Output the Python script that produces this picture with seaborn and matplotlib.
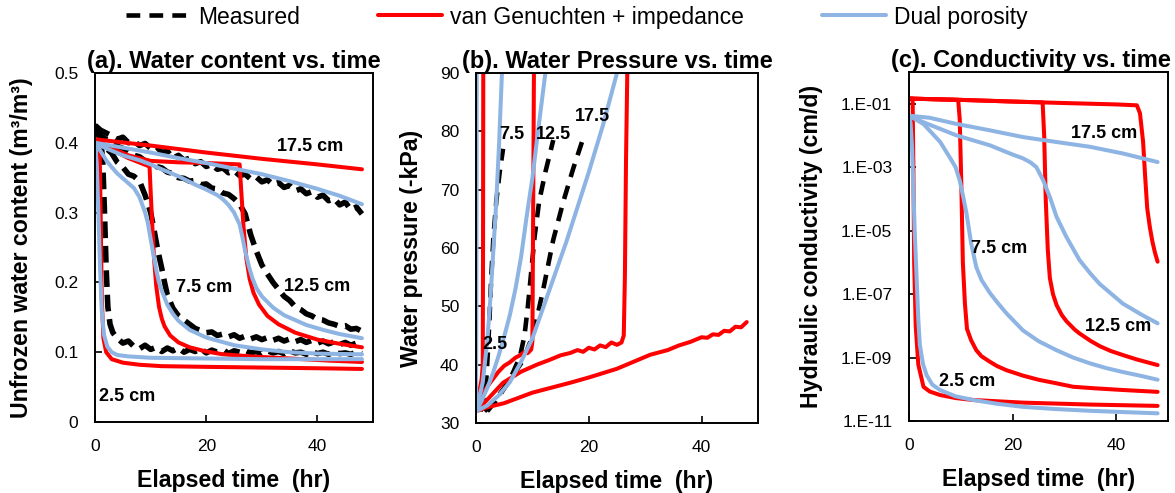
import matplotlib
matplotlib.use("Agg")
import numpy as np
import matplotlib.pyplot as plt
from matplotlib.lines import Line2D
from matplotlib.ticker import FuncFormatter, NullLocator
import seaborn as sns

# colours used in the original figure
MEAS_COLOR = "black"
VG_COLOR = "#FF0000"
DP_COLOR = "#8EB4E3"

# ---------------- (a) water content (m3/m3) vs time (hr) ----------------
T_A_MEAS_25 = [0, 0.5, 1, 1.4, 1.7, 2.0, 2.3, 2.7, 3.2, 4,
               5, 6, 7, 8, 9, 10, 11, 12, 13, 14,
               15, 16, 17, 18, 19, 20, 21, 22, 23, 24,
               25, 26, 27, 28, 29, 30, 31, 32, 33, 34,
               35, 36, 37, 38, 39, 40, 41, 42, 43, 44,
               45, 46, 47, 48]
W_A_MEAS_25 = [0.425, 0.415, 0.41, 0.37, 0.3, 0.22, 0.165, 0.14, 0.128, 0.12,
               0.113, 0.116, 0.108, 0.105, 0.11, 0.104, 0.107, 0.101, 0.106, 0.102,
               0.106, 0.1, 0.104, 0.101, 0.105, 0.099, 0.103, 0.1, 0.104, 0.098,
               0.102, 0.1, 0.103, 0.099, 0.101, 0.097, 0.102, 0.099, 0.101, 0.098,
               0.102, 0.099, 0.1, 0.097, 0.101, 0.098, 0.1, 0.097, 0.1, 0.098,
               0.099, 0.097, 0.1, 0.098]

T_A_MEAS_75 = [0, 1, 2, 3, 4, 5, 6, 7, 8, 9, 10, 10.5, 11, 11.5, 12, 12.5, 13, 14,
               15, 16, 17, 18, 19, 20,
               21, 22, 23, 24, 25, 26, 27, 28, 29, 30, 31, 32, 33, 34,
               35, 36, 37, 38, 39, 40, 41, 42, 43, 44, 45, 46, 47, 48]
W_A_MEAS_75 = [0.42, 0.405, 0.392, 0.385, 0.372, 0.365, 0.355, 0.352, 0.345, 0.325,
               0.3, 0.28, 0.258, 0.238, 0.22, 0.2, 0.182, 0.163, 0.152, 0.146,
               0.14, 0.134, 0.131, 0.128,
               0.129, 0.124, 0.126, 0.122, 0.125, 0.12, 0.123, 0.119, 0.122, 0.118,
               0.121, 0.117, 0.12, 0.116, 0.119, 0.115, 0.118, 0.114, 0.117, 0.113,
               0.116, 0.112, 0.115, 0.111, 0.114, 0.11, 0.113, 0.11]

T_A_MEAS_125 = [0, 1, 2, 3, 4, 5, 6, 7, 8, 9,
                10, 11, 12, 13, 14, 15, 16, 17, 18, 19,
                20, 21, 22, 23, 24, 25, 26, 27, 28, 29,
                30, 31, 32, 33, 34, 35, 36, 37, 38, 39,
                40, 41, 42, 43, 44, 45, 46, 47, 48]
W_A_MEAS_125 = [0.42, 0.41, 0.405, 0.402, 0.395, 0.392, 0.388, 0.382, 0.38, 0.374,
                0.372, 0.366, 0.364, 0.358, 0.356, 0.35, 0.349, 0.345, 0.346, 0.34,
                0.341, 0.335, 0.334, 0.328, 0.326, 0.32, 0.312, 0.298, 0.268, 0.245,
                0.225, 0.212, 0.2, 0.19, 0.18, 0.174, 0.165, 0.161, 0.155, 0.152,
                0.147, 0.146, 0.142, 0.14, 0.137, 0.138, 0.133, 0.134, 0.13]

T_A_MEAS_175 = T_A_MEAS_125
W_A_MEAS_175 = [0.425, 0.418, 0.414, 0.41, 0.405, 0.408, 0.4, 0.402, 0.396, 0.399,
                0.392, 0.395, 0.386, 0.388, 0.378, 0.382, 0.375, 0.378, 0.37, 0.373,
                0.366, 0.369, 0.362, 0.364, 0.357, 0.36, 0.353, 0.355, 0.348, 0.351,
                0.344, 0.347, 0.34, 0.343, 0.336, 0.339, 0.331, 0.334, 0.327, 0.33,
                0.322, 0.325, 0.317, 0.32, 0.311, 0.315, 0.304, 0.308, 0.298]

T_A_VG_25 = [0, 0.8, 1.0, 1.2, 1.5, 2, 3, 5, 8, 12, 20, 30, 40, 48]
W_A_VG_25 = [0.405, 0.4, 0.3, 0.18, 0.12, 0.1, 0.09, 0.085, 0.082, 0.08, 0.079, 0.078, 0.077, 0.076]
T_A_VG_75 = [0, 3, 6, 9.8, 10.0, 10.3, 10.6, 11, 11.5, 12, 12.5, 13.5, 15, 17, 20, 23, 28, 35, 42, 48]
W_A_VG_75 = [0.405, 0.39, 0.378, 0.366, 0.33, 0.28, 0.235, 0.195, 0.165, 0.148,
             0.137, 0.124, 0.114, 0.107, 0.101, 0.097, 0.094, 0.091, 0.088, 0.086]
T_A_VG_125 = [0, 3, 6, 10, 15, 20, 26.0, 26.3, 26.7, 27.2, 27.8, 28.5, 29.5, 31, 33, 36, 40, 44, 48]
W_A_VG_125 = [0.405, 0.392, 0.382, 0.374, 0.372, 0.371, 0.369, 0.33, 0.28, 0.235,
              0.205, 0.185, 0.168, 0.152, 0.14, 0.128, 0.118, 0.112, 0.107]
T_A_VG_175 = [0, 10, 20, 30, 40, 48]
W_A_VG_175 = [0.405, 0.396, 0.386, 0.377, 0.369, 0.362]

T_A_DP_25 = [0, 0.3, 0.6, 0.9, 1.2, 1.6, 2.2, 3, 4, 6, 10, 20, 30, 40, 48]
W_A_DP_25 = [0.4, 0.37, 0.3, 0.22, 0.16, 0.125, 0.108, 0.1, 0.096, 0.094, 0.092, 0.091, 0.09, 0.09, 0.09]
T_A_DP_75 = [0, 1, 2, 3, 4, 5, 6, 7, 8, 9, 9.5, 10, 10.5, 11, 11.5, 12, 13, 14, 15,
             17, 20, 25, 30, 35, 40, 48]
W_A_DP_75 = [0.4, 0.388, 0.375, 0.365, 0.356, 0.349, 0.342, 0.335, 0.322, 0.3,
             0.285, 0.262, 0.24, 0.218, 0.2, 0.188, 0.168, 0.155, 0.145, 0.132,
             0.121, 0.11, 0.104, 0.1, 0.098, 0.097]
T_A_DP_125 = [0, 2, 5, 8, 10, 12, 15, 18, 20, 22, 23, 24, 25, 26, 26.5, 27, 27.7,
              28.3, 29, 30, 32, 34, 36, 38, 41, 44, 48]
W_A_DP_125 = [0.4, 0.392, 0.382, 0.375, 0.369, 0.362, 0.352, 0.34, 0.333, 0.325,
              0.319, 0.311, 0.3, 0.283, 0.265, 0.245, 0.222, 0.206, 0.192, 0.18,
              0.164, 0.153, 0.146, 0.139, 0.132, 0.126, 0.12]
T_A_DP_175 = [0, 5, 10, 15, 20, 25, 30, 35, 40, 44, 48]
W_A_DP_175 = [0.4, 0.393, 0.386, 0.378, 0.371, 0.363, 0.355, 0.345, 0.334, 0.324, 0.312]

# ---------------- (b) water pressure (-kPa) vs time (hr) ----------------
T_B_MEAS_25 = [0.3, 0.8, 1.2, 1.6]
P_B_MEAS_25 = [32, 34, 37.5, 42]
T_B_MEAS_75 = [0.8, 1.4, 1.8, 2.1, 2.4, 2.7, 3.1, 3.6, 4.2, 4.8]
P_B_MEAS_75 = [32, 34, 37, 42, 48, 55, 62, 68, 73, 77]
T_B_MEAS_125 = [1.5, 3, 5, 6.5, 7.8, 8.6, 9.2, 9.8, 10.4, 11.2, 12.3, 13.7]
P_B_MEAS_125 = [32, 33.5, 36, 38.5, 41.4, 45, 50, 56, 62, 68, 73, 78.5]
T_B_MEAS_175 = [2, 3.7, 6, 8.4, 10.2, 11.9, 13.7, 15.5, 17.2, 18.8]
P_B_MEAS_175 = [32, 34, 37.4, 40.8, 45.4, 52.8, 61.4, 68, 73.5, 78.2]

T_B_VG_25 = [0, 0.5, 1.0, 1.2, 1.25, 1.3]
P_B_VG_25 = [32, 35, 37.5, 40, 60, 95]
T_B_VG_75 = [0, 1, 2.5, 4, 5, 6, 7, 7.8, 8.5, 9.2, 9.8, 10.0, 10.1, 10.3]
P_B_VG_75 = [32, 34.8, 36.9, 38.8, 39.8, 40.4, 41.2, 41.6, 42.1, 42.0, 42.6, 44, 60, 95]
T_B_VG_125 = [0, 2, 4.8, 8, 10.8, 13, 15, 16.7, 18, 19, 20, 21, 22, 23, 24, 25,
              25.8, 26.2, 26.4, 26.6, 26.9]
P_B_VG_125 = [32, 34, 36.9, 38.8, 40, 40.8, 41.6, 42, 42.5, 42.2, 42.9, 42.6, 43.3,
              43.0, 43.8, 43.4, 43.8, 45, 55, 75, 95]
T_B_VG_175 = [0, 2, 5, 10, 16.7, 20, 25, 30.9, 34, 36, 38, 40, 41, 42, 43, 44, 45, 46, 47, 48]
P_B_VG_175 = [32, 32.7, 33.4, 35.2, 36.9, 37.8, 39.3, 41.7, 42.5, 43.3, 43.9, 44.7,
              44.6, 45.2, 45.1, 45.8, 45.7, 46.5, 46.4, 47.3]

T_B_DP_25 = [0, 0.05, 0.1, 0.13]
P_B_DP_25 = [32, 45, 70, 95]
T_B_DP_75 = [0, 0.5, 1.2, 2, 2.6, 3.1, 3.6, 4.1, 4.6]
P_B_DP_75 = [32, 34, 37, 44, 52, 60, 68, 78, 90]
T_B_DP_125 = [0, 1, 2, 3, 4, 5, 6, 7, 8, 9, 10, 11, 12.3]
P_B_DP_125 = [32, 33.8, 36, 38.5, 41.5, 44.8, 48.5, 53, 58.5, 65.5, 72, 80, 90]
T_B_DP_175 = [0, 2, 4, 6, 8, 10, 12, 14, 16, 18, 20, 22.5, 25]
P_B_DP_175 = [32, 33, 34.7, 37, 40.5, 44.5, 50, 55.5, 61, 67, 73, 81, 90]

# ---------------- (c) hydraulic conductivity (cm/d) vs time (hr) ----------------
T_C_VG_25 = [0, 0.7, 0.85, 1.0, 1.3, 1.8, 2.8, 4, 6, 9, 12.4, 22, 35, 48]
K_C_VG_25 = [0.145, 0.145, 1e-3, 1e-6, 1e-8, 6e-10, 1.2e-10, 8.5e-11, 6.6e-11,
             5.3e-11, 4.6e-11, 3.8e-11, 3.3e-11, 3e-11]
T_C_VG_75 = [0, 5, 9.5, 9.8, 10.1, 10.4, 10.8, 11.2, 12, 13, 14, 15.6, 17, 18.8,
             22, 25, 28, 31.7, 36, 41.3, 48]
K_C_VG_75 = [0.145, 0.138, 0.132, 3.2e-2, 3.2e-4, 1e-6, 5e-8, 8e-9, 3.5e-9, 1.7e-9,
             1.1e-9, 7.4e-10, 5.4e-10, 4e-10, 2.7e-10, 2e-10, 1.6e-10, 1.2e-10,
             1.07e-10, 9.5e-11, 8.3e-11]
T_C_VG_125 = [0, 10, 20, 25.8, 26.1, 26.4, 26.8, 27.2, 27.8, 28.5, 29.5, 30.4, 32,
              32.9, 35, 36.8, 39, 41.3, 44, 48]
K_C_VG_125 = [0.145, 0.132, 0.117, 0.11, 1e-2, 1e-4, 2.5e-6, 3.2e-7, 1e-7, 4.5e-8,
              2.2e-8, 1.4e-8, 7.6e-9, 5.8e-9, 3.4e-9, 2.3e-9, 1.6e-9, 1.2e-9,
              8.7e-10, 5.8e-10]
T_C_VG_175 = [0, 10, 20, 30, 40, 44, 44.6, 45.2, 45.6, 46, 46.5, 47, 47.5, 48]
K_C_VG_175 = [0.145, 0.132, 0.117, 0.105, 0.095, 0.089, 0.05, 6.3e-3, 5e-4, 5e-5,
              1.3e-5, 4.5e-6, 2e-6, 1.05e-6]

T_C_DP_25 = [0, 0.3, 0.6, 0.8, 1.1, 1.5, 1.8, 2.1, 2.7, 3.4, 4.5, 6, 9, 12.4, 17,
             22, 28, 34.9, 42, 48]
K_C_DP_25 = [0.042, 0.025, 4e-3, 4e-4, 1e-5, 2.5e-7, 1.6e-8, 2.5e-9, 6.3e-10,
             2.8e-10, 1.4e-10, 9.5e-11, 6e-11, 4.6e-11, 3.5e-11, 2.8e-11, 2.4e-11,
             2.1e-11, 1.9e-11, 1.75e-11]
T_C_DP_75 = [0, 2.8, 6, 7.9, 9, 9.8, 10.5, 11.1, 12, 13, 14, 15.6, 17, 18.8, 22, 25,
             28.5, 31.7, 34.9, 38, 41.3, 45, 48]
K_C_DP_75 = [0.042, 0.023, 6.3e-3, 2e-3, 1e-3, 3.8e-4, 1.1e-4, 3.5e-5, 4e-6, 7e-7,
             2.8e-7, 1.1e-7, 5.6e-8, 2.5e-8, 7.2e-9, 3.3e-9, 1.7e-9, 1e-9, 6.6e-10,
             4.7e-10, 3.5e-10, 2.6e-10, 2e-10]
T_C_DP_125 = [0, 2.8, 9.2, 15.6, 20, 22, 23.5, 24.6, 25.9, 26.5, 27.2, 28.5, 30.4,
              32.9, 35, 36.8, 41.3, 45, 48]
K_C_DP_125 = [4.2e-2, 2.6e-2, 1e-2, 4.9e-3, 2.5e-3, 1.9e-3, 1.4e-3, 1e-3, 3.9e-4,
              2.2e-4, 1.15e-4, 2.7e-5, 6.3e-6, 1.2e-6, 4.5e-7, 2.1e-7, 5e-8, 2.2e-8, 1.2e-8]
T_C_DP_175 = [0, 4, 9.2, 15.6, 22, 28.5, 34.9, 41.3, 48]
K_C_DP_175 = [0.042, 0.036, 0.023, 0.0145, 0.0089, 0.0062, 0.0044, 0.0027, 0.00145]

# depth labels (text, x, y)
LABELS_A = [("17.5 cm", 38.7, 0.395), ("7.5 cm", 19.6, 0.192),
            ("12.5 cm", 39.9, 0.194), ("2.5 cm", 5.8, 0.037)]
LABELS_B = [("7.5", 6.3, 79.4), ("12.5", 13.7, 79.4), ("17.5", 20.7, 82.6), ("2.5", 3.4, 43.4)]
LABELS_C = [("17.5 cm", 37.6, 1.15e-2), ("7.5 cm", 17.4, 2.75e-6),
            ("12.5 cm", 40.3, 9.3e-9), ("2.5 cm", 11.3, 1.74e-10)]

LW_MEAS = 3.3
LW_MODEL = 2.9


def draw(ax, t, y, color, lw, ls="-"):
    sns.lineplot(x=t, y=y, ax=ax, color=color, lw=lw, linestyle=ls,
                 estimator=None, sort=False, legend=False)


def style_axis(ax, title, ylabel, ylab_x, title_x=0.5):
    ax.set_title(title, fontsize=17, fontweight="bold", pad=1, x=title_x)
    ax.set_xlabel("Elapsed time  (hr)", fontsize=16.7, fontweight="bold")
    ax.set_ylabel(ylabel, fontsize=16.7, fontweight="bold")
    ax.xaxis.set_label_coords(0.5, -0.135)
    ax.yaxis.set_label_coords(ylab_x, 0.5)
    ax.set_xlim(0, 50)
    ax.set_xticks([0, 20, 40])
    ax.tick_params(direction="in", length=5, width=1.2, labelsize=12.5, pad=12,
                   colors="black")
    for sp in ax.spines.values():
        sp.set_visible(True)
        sp.set_color("black")
        sp.set_linewidth(1.4)


def main():
    sns.set_theme(style="ticks")
    plt.rcParams["font.family"] = ["Liberation Sans", "DejaVu Sans"]
    plt.rcParams["text.color"] = "black"
    plt.rcParams["axes.labelcolor"] = "black"
    dash = (0, (3, 2))
    dash_a = (0, (3, 1.4))

    fig = plt.figure(figsize=(11.75, 4.93), dpi=100)
    ax_a = fig.add_axes([0.0809, 0.144, 0.2366, 0.708])
    ax_b = fig.add_axes([0.4051, 0.142, 0.2400, 0.710])
    ax_c = fig.add_axes([0.7736, 0.146, 0.2204, 0.708])

    # (a) water content
    for t, w in [(T_A_MEAS_25, W_A_MEAS_25), (T_A_MEAS_75, W_A_MEAS_75),
                 (T_A_MEAS_125, W_A_MEAS_125), (T_A_MEAS_175, W_A_MEAS_175)]:
        draw(ax_a, t, w, MEAS_COLOR, 4.0, dash_a)
    for t, w in [(T_A_VG_25, W_A_VG_25), (T_A_VG_75, W_A_VG_75),
                 (T_A_VG_125, W_A_VG_125), (T_A_VG_175, W_A_VG_175)]:
        draw(ax_a, t, w, VG_COLOR, LW_MODEL)
    for t, w in [(T_A_DP_25, W_A_DP_25), (T_A_DP_75, W_A_DP_75),
                 (T_A_DP_125, W_A_DP_125), (T_A_DP_175, W_A_DP_175)]:
        draw(ax_a, t, w, DP_COLOR, LW_MODEL)
    ax_a.set_ylim(0, 0.5)
    ax_a.set_yticks([0, 0.1, 0.2, 0.3, 0.4, 0.5])
    ax_a.yaxis.set_major_formatter(FuncFormatter(lambda v, p: f"{v:g}"))
    for txt, x, y in LABELS_A:
        ax_a.text(x, y, txt, ha="center", va="center", fontsize=13, fontweight="bold")
    style_axis(ax_a, "(a). Water content vs. time",
               "Unfrozen water content (m³/m³)", -0.223)

    # (b) water pressure
    for t, p in [(T_B_MEAS_25, P_B_MEAS_25), (T_B_MEAS_75, P_B_MEAS_75),
                 (T_B_MEAS_125, P_B_MEAS_125), (T_B_MEAS_175, P_B_MEAS_175)]:
        draw(ax_b, t, p, MEAS_COLOR, LW_MEAS, dash)
    for t, p in [(T_B_VG_25, P_B_VG_25), (T_B_VG_75, P_B_VG_75),
                 (T_B_VG_125, P_B_VG_125), (T_B_VG_175, P_B_VG_175)]:
        draw(ax_b, t, p, VG_COLOR, LW_MODEL)
    for t, p in [(T_B_DP_25, P_B_DP_25), (T_B_DP_75, P_B_DP_75),
                 (T_B_DP_125, P_B_DP_125), (T_B_DP_175, P_B_DP_175)]:
        draw(ax_b, t, p, DP_COLOR, LW_MODEL)
    ax_b.set_ylim(30, 90)
    ax_b.set_yticks([30, 40, 50, 60, 70, 80, 90])
    for txt, x, y in LABELS_B:
        ax_b.text(x, y, txt, ha="center", va="center", fontsize=13, fontweight="bold")
    style_axis(ax_b, "(b). Water Pressure vs. time", "Water pressure (-kPa)", -0.188)

    # (c) hydraulic conductivity
    ax_c.set_yscale("log")
    for t, k in [(T_C_VG_25, K_C_VG_25), (T_C_VG_75, K_C_VG_75),
                 (T_C_VG_125, K_C_VG_125), (T_C_VG_175, K_C_VG_175)]:
        draw(ax_c, t, k, VG_COLOR, LW_MODEL)
    for t, k in [(T_C_DP_25, K_C_DP_25), (T_C_DP_75, K_C_DP_75),
                 (T_C_DP_125, K_C_DP_125), (T_C_DP_175, K_C_DP_175)]:
        draw(ax_c, t, k, DP_COLOR, LW_MODEL)
    ax_c.set_ylim(1e-11, 1)
    ax_c.set_yticks([1e-11, 1e-9, 1e-7, 1e-5, 1e-3, 1e-1])
    ax_c.yaxis.set_minor_locator(NullLocator())
    ax_c.yaxis.set_major_formatter(
        FuncFormatter(lambda v, p: "1.E-%02d" % int(round(-np.log10(v)))))
    for txt, x, y in LABELS_C:
        ax_c.text(x, y, txt, ha="center", va="center", fontsize=13, fontweight="bold")
    style_axis(ax_c, "(c). Conductivity vs. time", "Hydraulic conductivity (cm/d)",
               -0.332, title_x=0.47)

    handles = [Line2D([], [], color=MEAS_COLOR, lw=LW_MEAS, linestyle=dash),
               Line2D([], [], color=VG_COLOR, lw=LW_MODEL),
               Line2D([], [], color=DP_COLOR, lw=LW_MODEL)]
    fig.legend(handles, ["Measured", "van Genuchten + impedance", "Dual porosity"],
               loc="center", bbox_to_anchor=(0.491, 0.9655), ncol=3, frameon=False,
               handlelength=2.8, handletextpad=0.35, columnspacing=3.4, fontsize=16.5)

    fig.savefig("out.png", dpi=100)
    plt.close(fig)


if __name__ == "__main__":
    main()
